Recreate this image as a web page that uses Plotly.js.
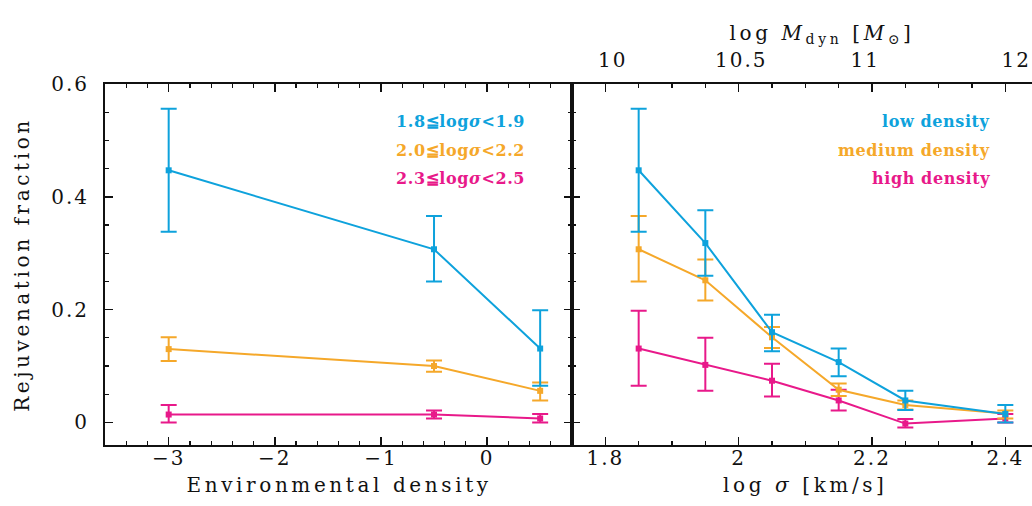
<!DOCTYPE html>
<html>
<head>
<meta charset="utf-8">
<script src="https://cdn.plot.ly/plotly-3.0.1.min.js"></script>
<style>
  html, body { margin: 0; padding: 0; background: #fff; }
  #chart { width: 1032px; height: 506px; }
  .xtick text, .ytick text, .x2tick text, .x3tick text { letter-spacing: 2px; }
  .ytitle { letter-spacing: 3.6px; }
  .annotation-text { letter-spacing: 0.6px; }
  .annotation[data-index="0"] text,
  .annotation[data-index="1"] text,
  .annotation[data-index="2"] text { letter-spacing: 3.6px; }
</style>
</head>
<body>
<div id="chart"></div>
<script>
// ---------------- data ----------------
// Left panel: rejuvenation fraction vs environmental density, per sigma bin
const envDensity = [-3, -0.5, 0.5];

const envLowSigma      = [0.447, 0.307, 0.131];
const envLowSigmaUp    = [0.109, 0.059, 0.068];
const envLowSigmaDn    = [0.109, 0.057, 0.066];

const envMidSigma      = [0.130, 0.100, 0.056];
const envMidSigmaUp    = [0.021, 0.010, 0.015];
const envMidSigmaDn    = [0.021, 0.010, 0.017];

const envHighSigma     = [0.014, 0.014, 0.007];
const envHighSigmaUp   = [0.017, 0.007, 0.008];
const envHighSigmaDn   = [0.014, 0.007, 0.007];

// Right panel: rejuvenation fraction vs log sigma, per density bin
const logSigma = [1.85, 1.95, 2.05, 2.15, 2.25, 2.40];

const lowDens      = [0.447, 0.318, 0.160, 0.107, 0.039, 0.015];
const lowDensUp    = [0.109, 0.058, 0.031, 0.024, 0.017, 0.016];
const lowDensDn    = [0.109, 0.058, 0.034, 0.025, 0.017, 0.015];

const medDens      = [0.307, 0.252, 0.151, 0.058, 0.031, 0.016];
const medDensUp    = [0.059, 0.037, 0.018, 0.011, 0.008, 0.005];
const medDensDn    = [0.057, 0.036, 0.019, 0.011, 0.008, 0.009];

const highDens     = [0.131, 0.102, 0.074, 0.039, -0.002, 0.007];
const highDensUp   = [0.067, 0.048, 0.030, 0.019, 0.008, 0.008];
const highDensDn   = [0.066, 0.046, 0.028, 0.018, 0.007, 0.007];

// Top axis (log M_dyn) tick labels and their log sigma positions
const mdynTickPos  = [1.811, 2.004, 2.190, 2.4165];
const mdynTickText = ['10', '10.5', '11', '12'];

// Axis titles and legend labels
const leftXTitle  = 'Environmental density';
const rightXTitle = 'log <i>σ</i> [km/s]';
const topXTitle   = 'log <i>M</i><sub>dyn</sub> [<i>M</i><sub>⊙</sub>]';
const yTitle      = 'Rejuvenation fraction';
const sigmaLabels   = ['1.8≦log<i>σ</i><1.9', '2.0≦log<i>σ</i><2.2', '2.3≦log<i>σ</i><2.5'];
const densityLabels = ['low density', 'medium density', 'high density'];

// ---------------- style ----------------
const BLUE = '#0ea2dc', ORANGE = '#f5a82a', MAGENTA = '#e8198a';
const FONT = 'DejaVu Serif, Liberation Serif, serif';

function series(x, y, up, dn, color, xa, ya) {
  return {
    type: 'scatter', mode: 'lines+markers',
    x: x, y: y, xaxis: xa, yaxis: ya,
    line: { color: color, width: 2 },
    marker: { color: color, symbol: 'square', size: 6 },
    error_y: { type: 'data', symmetric: false, array: up, arrayminus: dn,
               color: color, thickness: 2, width: 8 },
    showlegend: false, hoverinfo: 'skip'
  };
}

const traces = [
  series(envDensity, envHighSigma, envHighSigmaUp, envHighSigmaDn, MAGENTA, 'x', 'y'),
  series(envDensity, envMidSigma, envMidSigmaUp, envMidSigmaDn, ORANGE, 'x', 'y'),
  series(envDensity, envLowSigma, envLowSigmaUp, envLowSigmaDn, BLUE, 'x', 'y'),
  series(logSigma, highDens, highDensUp, highDensDn, MAGENTA, 'x2', 'y2'),
  series(logSigma, medDens, medDensUp, medDensDn, ORANGE, 'x2', 'y2'),
  series(logSigma, lowDens, lowDensUp, lowDensDn, BLUE, 'x2', 'y2'),
  // invisible trace to activate the top axis
  { type: 'scatter', mode: 'markers', x: [mdynTickPos[0]], y: [0], xaxis: 'x3', yaxis: 'y2',
    marker: { opacity: 0 }, showlegend: false, hoverinfo: 'skip' }
];

const split = (572 - 105) / 927;
const tickFont = { family: FONT, size: 20, color: '#111' };
const titleFont = { family: FONT, size: 20, color: '#111' };

const common = {
  showgrid: false, zeroline: false, showline: true, linecolor: '#111', linewidth: 2,
  ticks: 'inside', tickcolor: '#111', tickwidth: 1.5, ticklen: 8,
  tickfont: tickFont, fixedrange: true
};

function paperY(px) { return 1 - (px - 84) / (445 - 84); }
function paperX(px) { return (px - 105) / 927; }

const annotations = [
  { xref: 'paper', yref: 'paper', x: paperX(822), y: paperY(34),
    xanchor: 'center', yanchor: 'middle', showarrow: false, text: topXTitle, font: titleFont },
  { xref: 'paper', yref: 'paper', x: paperX(339), y: paperY(485),
    xanchor: 'center', yanchor: 'middle', showarrow: false, text: leftXTitle, font: titleFont },
  { xref: 'paper', yref: 'paper', x: paperX(805), y: paperY(485),
    xanchor: 'center', yanchor: 'middle', showarrow: false, text: rightXTitle, font: titleFont }
];
const legColors = [BLUE, ORANGE, MAGENTA];
const legY = [121.5, 150, 178.5];
for (let i = 0; i < 3; i++) {
  annotations.push({
    xref: 'paper', yref: 'paper', x: paperX(527), y: paperY(legY[i]),
    xanchor: 'right', yanchor: 'middle', showarrow: false,
    text: sigmaLabels[i],
    font: { family: FONT, size: 16, color: legColors[i], weight: 'bold' }
  });
  annotations.push({
    xref: 'paper', yref: 'paper', x: paperX(992), y: paperY(legY[i]),
    xanchor: 'right', yanchor: 'middle', showarrow: false,
    text: densityLabels[i],
    font: { family: FONT, size: 16, color: legColors[i], weight: 'bold' }
  });
}

const layout = {
  width: 1032, height: 506,
  margin: { l: 105, r: 0, t: 84, b: 61 },
  paper_bgcolor: '#fff', plot_bgcolor: '#fff',
  showlegend: false,
  xaxis: Object.assign({}, common, {
    domain: [0, split], range: [-3.6, 0.8], tick0: 0, dtick: 1,
    mirror: 'allticks', anchor: 'y',
    minor: { ticks: 'inside', dtick: 0.2, ticklen: 4, tickcolor: '#111', tickwidth: 1.2 },
    ticklabelstandoff: -6
  }),
  yaxis: Object.assign({}, common, {
    domain: [0, 1], range: [-0.04, 0.6], tick0: 0, dtick: 0.2,
    mirror: 'allticks', anchor: 'x',
    minor: { ticks: 'inside', dtick: 0.05, ticklen: 4, tickcolor: '#111', tickwidth: 1.2 },
    ticklabelstandoff: 10,
    title: { text: yTitle, font: titleFont, standoff: 16 }
  }),
  xaxis2: Object.assign({}, common, {
    domain: [split, 1], range: [1.75, 2.44], tick0: 1.8, dtick: 0.2,
    mirror: 'allticks', anchor: 'y2',
    minor: { ticks: 'inside', dtick: 0.05, ticklen: 4, tickcolor: '#111', tickwidth: 1.2 },
    ticklabelstandoff: -6
  }),
  yaxis2: Object.assign({}, common, {
    domain: [0, 1], range: [-0.04, 0.6], tick0: 0, dtick: 0.2,
    mirror: false, anchor: 'x2', showticklabels: false,
    minor: { ticks: 'inside', dtick: 0.05, ticklen: 4, tickcolor: '#111', tickwidth: 1.2 }
  }),
  xaxis3: {
    overlaying: 'x2', side: 'top', anchor: 'y2', range: [1.75, 2.44],
    showgrid: false, zeroline: false, showline: false, ticks: '',
    tickmode: 'array', tickvals: mdynTickPos, ticktext: mdynTickText,
    tickfont: tickFont, ticklabelstandoff: 12, fixedrange: true
  },
  annotations: annotations
};

Plotly.newPlot('chart', traces, layout, { staticPlot: true, displayModeBar: false });
</script>
</body>
</html>
